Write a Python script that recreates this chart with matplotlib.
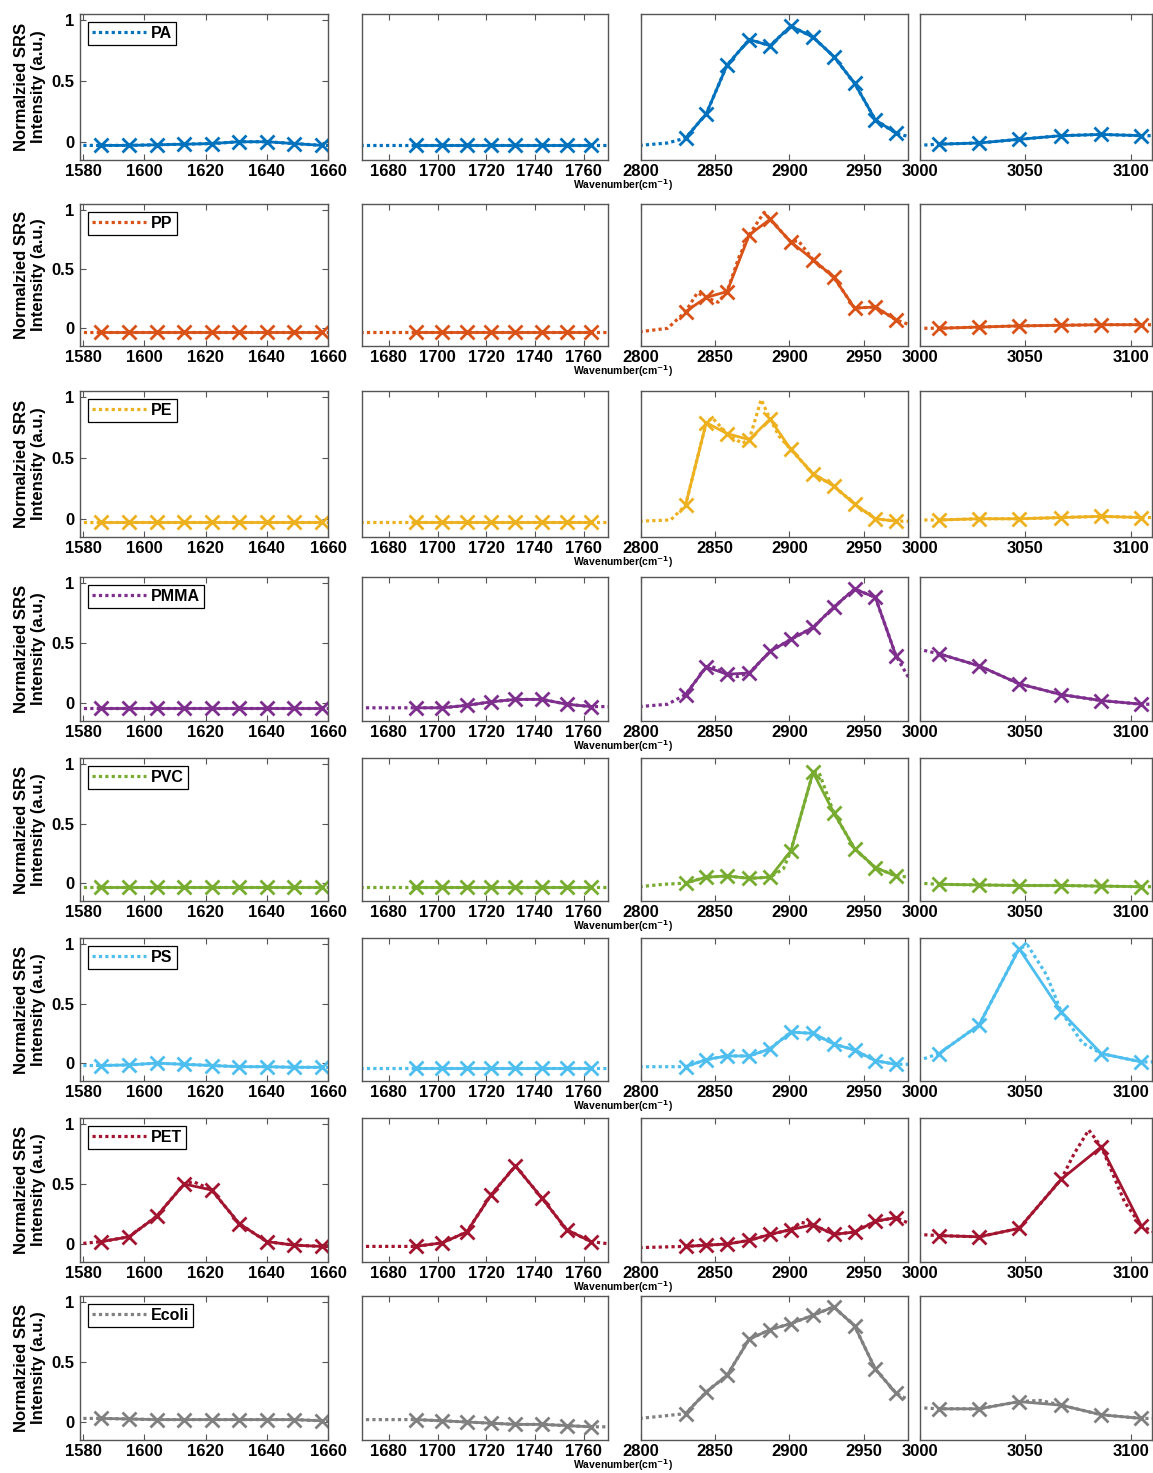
import numpy as np
import matplotlib
matplotlib.use("Agg")
import matplotlib.pyplot as plt
from matplotlib.lines import Line2D

plt.rcParams['font.family'] = ['Liberation Sans', 'DejaVu Sans']
plt.rcParams['font.weight'] = 'bold'

# wavenumber sampling of the measured spectra (4 windows)
x1 = [1586, 1595, 1604, 1613, 1622, 1631, 1640, 1649, 1658]
x2 = [1691, 1702, 1712, 1722, 1732, 1743, 1753, 1763]
x3 = [2830, 2844, 2858, 2873, 2887, 2901, 2916, 2930, 2944, 2958, 2972]
x4 = [3009, 3028, 3047, 3067, 3086, 3105]
xs = [x1, x2, x3, x4]

xlims = [(1579, 1660), (1669, 1770), (2800, 2980), (3000, 3110)]
xticks = [[1580, 1600, 1620, 1640, 1660],
          [1680, 1700, 1720, 1740, 1760],
          [2800, 2850, 2900, 2950],
          [3000, 3050, 3100]]

names = ['PA', 'PP', 'PE', 'PMMA', 'PVC', 'PS', 'PET', 'Ecoli']
colors = ['#0072BD', '#D95319', '#EDB120', '#7E2F8E', '#77AC30', '#4DBEEE', '#A2142F', '#808080']

# measured (solid, x markers)
PA_1 = [-0.03, -0.03, -0.025, -0.02, -0.015, 0.0, 0.0, -0.015, -0.03]
PA_2 = [-0.03, -0.03, -0.03, -0.03, -0.03, -0.03, -0.03, -0.03]
PA_3 = [0.03, 0.23, 0.63, 0.84, 0.79, 0.95, 0.86, 0.70, 0.48, 0.18, 0.07]
PA_4 = [-0.02, -0.01, 0.02, 0.05, 0.06, 0.05]

PP_1 = [-0.03] * 9
PP_2 = [-0.03] * 8
PP_3 = [0.14, 0.26, 0.31, 0.79, 0.92, 0.73, 0.58, 0.43, 0.17, 0.18, 0.07]
PP_4 = [0.0, 0.01, 0.02, 0.025, 0.03, 0.03]

PE_1 = [-0.03] * 9
PE_2 = [-0.03] * 8
PE_3 = [0.11, 0.79, 0.70, 0.65, 0.82, 0.57, 0.37, 0.27, 0.12, 0.0, -0.02]
PE_4 = [-0.01, 0.0, 0.0, 0.01, 0.02, 0.01]

PMMA_1 = [-0.04] * 9
PMMA_2 = [-0.04, -0.04, -0.02, 0.01, 0.03, 0.03, -0.01, -0.03]
PMMA_3 = [0.07, 0.30, 0.24, 0.25, 0.43, 0.53, 0.63, 0.80, 0.95, 0.88, 0.39]
PMMA_4 = [0.41, 0.31, 0.16, 0.07, 0.02, -0.01]

PVC_1 = [-0.03] * 9
PVC_2 = [-0.03] * 8
PVC_3 = [0.0, 0.05, 0.06, 0.04, 0.05, 0.27, 0.93, 0.59, 0.29, 0.13, 0.06]
PVC_4 = [-0.01, -0.015, -0.02, -0.02, -0.025, -0.03]

PS_1 = [-0.02, -0.015, 0.0, -0.01, -0.02, -0.03, -0.03, -0.035, -0.035]
PS_2 = [-0.04] * 8
PS_3 = [-0.03, 0.03, 0.06, 0.06, 0.12, 0.26, 0.25, 0.16, 0.11, 0.02, -0.01]
PS_4 = [0.08, 0.32, 0.96, 0.43, 0.08, 0.01]

PET_1 = [0.02, 0.06, 0.23, 0.50, 0.45, 0.17, 0.02, -0.01, -0.02]
PET_2 = [-0.02, 0.01, 0.10, 0.41, 0.65, 0.38, 0.12, 0.02]
PET_3 = [-0.02, -0.01, 0.0, 0.03, 0.08, 0.12, 0.16, 0.08, 0.10, 0.19, 0.22]
PET_4 = [0.07, 0.06, 0.13, 0.54, 0.81, 0.15]

Ecoli_1 = [0.03, 0.025, 0.02, 0.02, 0.02, 0.02, 0.02, 0.02, 0.01]
Ecoli_2 = [0.02, 0.01, 0.0, -0.01, -0.02, -0.02, -0.03, -0.04]
Ecoli_3 = [0.07, 0.25, 0.39, 0.69, 0.77, 0.82, 0.89, 0.96, 0.80, 0.44, 0.24]
Ecoli_4 = [0.11, 0.11, 0.17, 0.14, 0.06, 0.03]

measured = [[PA_1, PA_2, PA_3, PA_4], [PP_1, PP_2, PP_3, PP_4],
            [PE_1, PE_2, PE_3, PE_4], [PMMA_1, PMMA_2, PMMA_3, PMMA_4],
            [PVC_1, PVC_2, PVC_3, PVC_4], [PS_1, PS_2, PS_3, PS_4],
            [PET_1, PET_2, PET_3, PET_4], [Ecoli_1, Ecoli_2, Ecoli_3, Ecoli_4]]

# reference spectra (dotted): value at window start / end, plus points where
# the reference departs from the measured curve
ref_edges = [
    [(-0.03, -0.03), (-0.03, -0.03), (-0.03, 0.04), (-0.03, 0.05)],
    [(-0.03, -0.03), (-0.03, -0.03), (-0.03, 0.03), (0.0, 0.03)],
    [(-0.03, -0.03), (-0.03, -0.03), (-0.02, -0.02), (-0.01, 0.01)],
    [(-0.04, -0.04), (-0.04, -0.03), (-0.03, 0.20), (0.45, -0.01)],
    [(-0.03, -0.03), (-0.03, -0.03), (-0.03, 0.05), (0.0, -0.03)],
    [(-0.02, -0.035), (-0.04, -0.04), (-0.03, -0.01), (0.02, 0.01)],
    [(0.0, -0.02), (-0.02, 0.0), (-0.03, 0.17), (0.08, 0.10)],
    [(0.03, 0.01), (0.02, -0.04), (0.03, 0.18), (0.12, 0.03)],
]
ref_extra = {
    (0, 2): [(2818, -0.01)],
    (1, 2): [(2818, 0.0), (2838, 0.30), (2852, 0.22), (2866, 0.60), (2883, 0.98), (2906, 0.74)],
    (2, 2): [(2820, -0.01), (2848, 0.83), (2868, 0.62), (2881, 0.98), (2893, 0.68)],
    (3, 2): [(2818, -0.01), (2847, 0.31), (2865, 0.22)],
    (4, 2): [(2815, -0.01), (2896, 0.12), (2920, 0.93)],
    (5, 3): [(3051, 0.99), (3060, 0.74), (3077, 0.17)],
    (6, 0): [(1616, 0.52)],
    (6, 2): [(2908, 0.18)],
    (6, 3): [(3073, 0.75), (3080, 0.95), (3097, 0.35)],
    (7, 2): [(2815, 0.05)],
    (7, 3): [(3057, 0.18)],
}

W, H = 1153, 1473
col_px = [(80, 328), (362, 608), (641, 908), (920, 1152)]
row_px = [(14, 160), (204, 346), (391, 537), (577, 721),
          (758, 901), (938, 1081), (1118, 1262), (1296, 1440)]

fig = plt.figure(figsize=(W / 100, H / 100), dpi=100)
spine_c = '#555555'

for r, name in enumerate(names):
    c = colors[r]
    top, bot = row_px[r]
    for k in range(4):
        left, right = col_px[k]
        ax = fig.add_axes([left / W, 1 - bot / H, (right - left) / W, (bot - top) / H])
        xm = xs[k]
        ym = measured[r][k]
        # dotted reference
        pts = [(xlims[k][0] - 1, ref_edges[r][k][0])] + list(zip(xm, ym)) + \
              [(xlims[k][1] + 1, ref_edges[r][k][1])] + ref_extra.get((r, k), [])
        pts.sort()
        ax.plot([p[0] for p in pts], [p[1] for p in pts], ls=(0, (1, 1)), lw=2.3, color=c)
        ax.plot(xm, ym, '-', color=c, lw=2.0, marker='x', ms=10, mew=2.0)
        ax.set_xlim(*xlims[k])
        ax.set_ylim(-0.15, 1.05)
        ax.set_xticks(xticks[k])
        for s in ax.spines.values():
            s.set_color(spine_c)
            s.set_linewidth(1.0)
        ax.tick_params(axis='x', direction='in', top=True, length=4, color=spine_c,
                       labelsize=12, pad=3)
        if k == 0:
            ax.set_yticks([0, 0.5, 1])
            ax.set_yticklabels(['0', '0.5', '1'])
            ax.tick_params(axis='y', direction='in', right=True, length=4, color=spine_c,
                           labelsize=12, pad=4)
            ax.set_ylabel('Normalzied SRS\nIntensity (a.u.)', fontsize=12,
                          fontweight='bold', labelpad=4, linespacing=1.15)
            h = Line2D([], [], color=c, ls=(0, (1, 1)), lw=2.3)
            leg = ax.legend([h], [name], loc='upper left', fancybox=False,
                            edgecolor='k', framealpha=1, handlelength=3.4,
                            handletextpad=0.3, borderpad=0.25, borderaxespad=0.5,
                            prop={'weight': 'bold', 'size': 11.5})
            leg.get_frame().set_linewidth(0.9)
        else:
            ax.set_yticks([])
    fig.text(623 / W, 1 - (bot + 25.5) / H, 'Wavenumber(cm$^{-1}$)', fontsize=7.5,
             fontweight='bold', ha='center', va='center')

fig.savefig('out.png', dpi=100)
